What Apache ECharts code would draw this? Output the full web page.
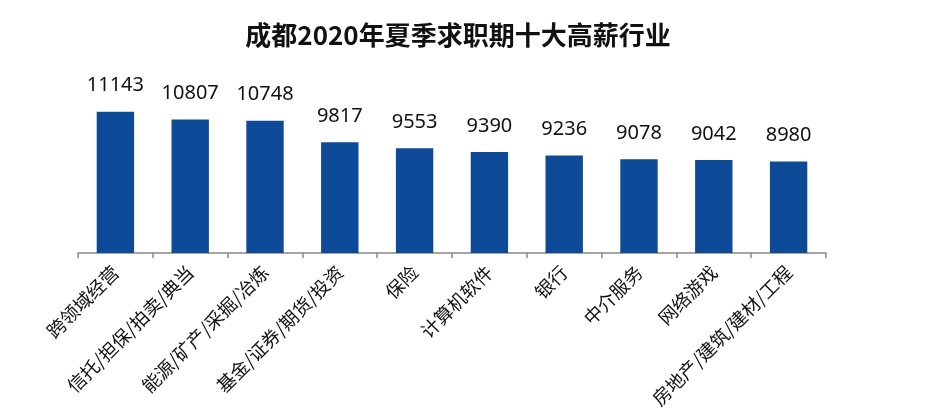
<!DOCTYPE html>
<html><head><meta charset="utf-8">
<script src="https://cdn.jsdelivr.net/npm/echarts@6/dist/echarts.min.js"></script>
<style>html,body{margin:0;padding:0;background:#fff}#c{width:925px;height:411px}</style>
</head><body><div id="c"></div>
<script>
const title = '成都2020年夏季求职期十大高薪行业';
const categories = ['跨领域经营','信托/担保/拍卖/典当','能源/矿产/采掘/冶炼','基金/证券/期货/投资','保险','计算机软件','银行','中介服务','网络游戏','房地产/建筑/建材/工程'];
const salaries = [11143,10807,10748,9817,9553,9390,9236,9078,9042,8980];

const chart = echarts.init(document.getElementById('c'));
chart.setOption({
  animation:false,
  backgroundColor:'#fff',
  title:{text:title,left:453,top:17,textAlign:'center',
    textStyle:{fontFamily:'Noto Sans CJK SC',fontWeight:'bold',fontSize:26,color:'#111'}},
  grid:{left:78,right:99,top:92,bottom:158},
  xAxis:{type:'category',data:categories,
    axisLine:{lineStyle:{color:'#888',width:1.5}},
    axisTick:{show:true,length:5,lineStyle:{color:'#888',width:1.5}},
    axisLabel:{rotate:45,interval:0,margin:16,fontFamily:'Noto Sans CJK SC',fontSize:18.5,color:'#111'}},
  yAxis:{type:'value',min:5000,max:12000,show:false,splitLine:{show:false}},
  series:[{type:'bar',data:salaries,barWidth:'50%',
    itemStyle:{color:'#0D4A98'},
    label:{show:true,position:'top',distance:16,fontFamily:'Noto Sans',fontSize:20,color:'#111'}}]
});
</script></body></html>
